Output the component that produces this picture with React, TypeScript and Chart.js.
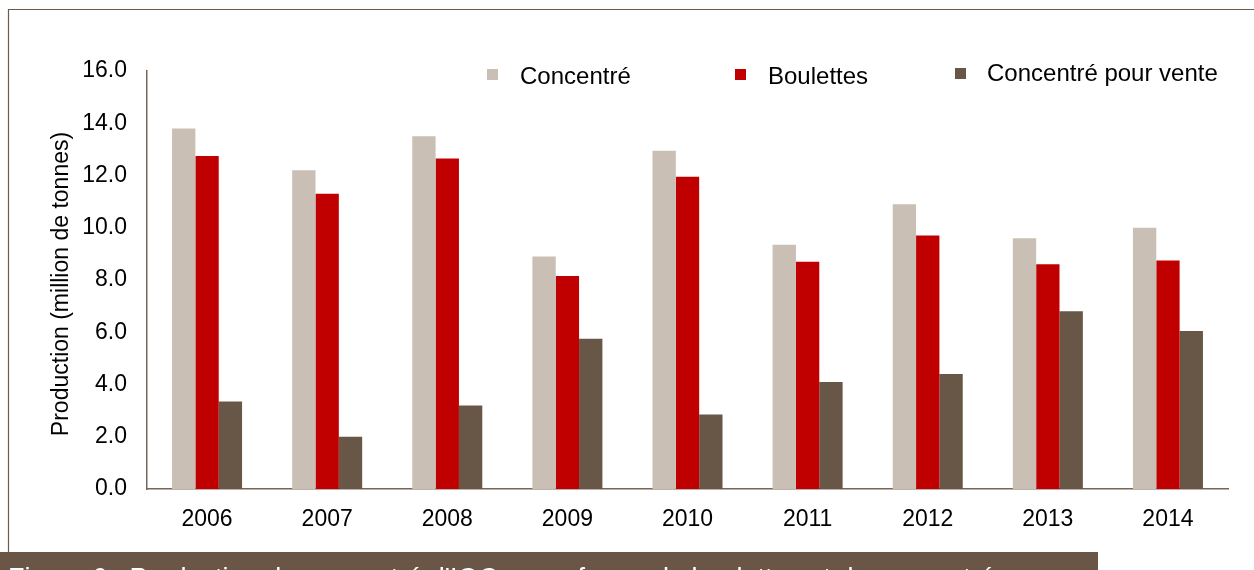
import React, { useEffect, useRef } from "react";
import { Chart, registerables } from "chart.js";

Chart.register(...registerables);

const years = ["2006", "2007", "2008", "2009", "2010", "2011", "2012", "2013", "2014"];
const concentre = [13.8, 12.2, 13.5, 8.9, 12.95, 9.35, 10.9, 9.6, 10.0];
const boulettes = [12.75, 11.3, 12.65, 8.15, 11.95, 8.7, 9.7, 8.6, 8.75];
const concentreVente = [3.35, 2.0, 3.2, 5.75, 2.85, 4.1, 4.4, 6.8, 6.05];

const seriesNames = ["Concentré", "Boulettes", "Concentré pour vente"];
const seriesColors = ["#C9BFB5", "#C00000", "#685646"];
const yTitle = "Production (million de tonnes)";
const caption = "Figure 6 : Production de concentré d'IOC, sous forme de boulettes et de concentré";

const FONT = "'Liberation Sans', Arial, sans-serif";
const FONT_SIZE = 23;
const AXIS_COLOR = "#74665b";

// Frame, caption band, axis title and legend drawn directly on the canvas
const decorations = {
  id: "decorations",
  beforeDraw(chart: any) {
    const ctx = chart.ctx;
    ctx.save();
    ctx.fillStyle = "#ffffff";
    ctx.fillRect(0, 0, chart.width, chart.height);
    ctx.strokeStyle = "#6B5A4E";
    ctx.lineWidth = 1.2;
    ctx.beginPath();
    ctx.moveTo(8.5, 553);
    ctx.lineTo(8.5, 9.5);
    ctx.lineTo(chart.width, 9.5);
    ctx.stroke();
    ctx.restore();
  },
  afterDraw(chart: any) {
    const ctx = chart.ctx;
    const area = chart.chartArea;
    ctx.save();
    // caption band
    ctx.fillStyle = "#6A5646";
    ctx.fillRect(0, 552, 1098, 18);
    ctx.fillStyle = "#ffffff";
    ctx.font = `27px ${FONT}`;
    ctx.textBaseline = "alphabetic";
    ctx.textAlign = "left";
    ctx.fillText(caption, 8, 587);

    // y-axis title
    ctx.fillStyle = "#000000";
    ctx.font = `${FONT_SIZE}px ${FONT}`;
    ctx.translate(62, (area.top + area.bottom) / 2 + 4);
    ctx.rotate(-Math.PI / 2);
    ctx.textAlign = "center";
    ctx.textBaseline = "middle";
    ctx.fillText(yTitle, 0, 0);
    ctx.restore();

    // legend
    ctx.save();
    const items = [
      { x: 487, y: 69, tx: 520, ty: 77 },
      { x: 735, y: 69, tx: 768, ty: 77 },
      { x: 955, y: 68, tx: 987, ty: 74 },
    ];
    ctx.font = `24px ${FONT}`;
    ctx.textBaseline = "middle";
    ctx.textAlign = "left";
    items.forEach((it, i) => {
      ctx.fillStyle = seriesColors[i];
      ctx.fillRect(it.x, it.y, 11, 11);
      ctx.fillStyle = "#000000";
      ctx.fillText(seriesNames[i], it.tx, it.ty);
    });
    ctx.restore();
  },
};

export default function App() {
  const ref = useRef<HTMLCanvasElement | null>(null);

  useEffect(() => {
    if (!ref.current) return;
    const data = [concentre, boulettes, concentreVente];
    const chart = new Chart(ref.current, {
      type: "bar",
      data: {
        labels: years,
        datasets: data.map((values, i) => ({
          label: seriesNames[i],
          data: values,
          backgroundColor: seriesColors[i],
          borderWidth: 0,
          categoryPercentage: 0.583,
          barPercentage: 1,
        })),
      },
      options: {
        animation: false,
        responsive: false,
        maintainAspectRatio: false,
        devicePixelRatio: 1,
        layout: { padding: { left: 0, right: 26, top: 71, bottom: 41 } },
        plugins: {
          legend: { display: false },
          tooltip: { enabled: false },
          title: { display: false },
        },
        scales: {
          x: {
            grid: { display: false, drawTicks: false },
            border: { display: true, color: AXIS_COLOR, width: 1.5 },
            ticks: { color: "#000", font: { family: FONT, size: FONT_SIZE }, padding: 17, maxRotation: 0 },
            afterFit: (s: any) => {
              s.height = 40;
            },
          },
          y: {
            min: 0,
            max: 16,
            grid: { display: false, drawTicks: false },
            border: { display: true, color: AXIS_COLOR, width: 1.5 },
            ticks: {
              stepSize: 2,
              color: "#000",
              font: { family: FONT, size: FONT_SIZE },
              padding: 20,
              callback: (v: any) => Number(v).toFixed(1),
            },
            afterFit: (s: any) => {
              s.width = 147;
            },
          },
        },
      },
      plugins: [decorations],
    });
    return () => chart.destroy();
  }, []);

  return (
    <div style={{ position: "absolute", left: 0, top: 0, width: 1254, height: 570, background: "#fff" }}>
      <canvas ref={ref} width={1254} height={570} style={{ display: "block", width: 1254, height: 570 }} />
    </div>
  );
}
